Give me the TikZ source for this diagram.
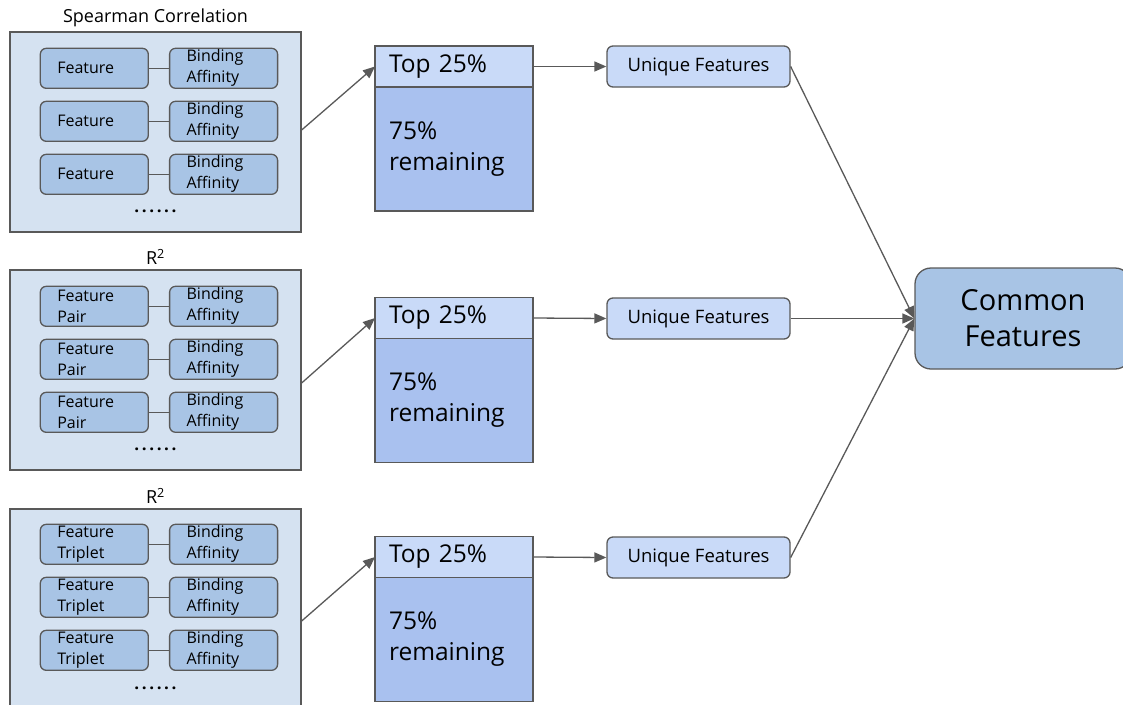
\documentclass[tikz,border=0pt]{standalone}
\usepackage{fontspec}
\setmainfont{Open Sans}
\usetikzlibrary{arrows.meta, matrix, positioning, calc}
\definecolor{linegray}{HTML}{595959}
\definecolor{groupfill}{HTML}{D5E2F1}
\definecolor{pairfill}{HTML}{A8C4E5}
\definecolor{topfill}{HTML}{C9DAF8}
\definecolor{restfill}{HTML}{A9C1EF}
\newcommand{\sixdots}{.\kern2.6pt.\kern2.6pt.\kern2.6pt.\kern2.6pt.\kern2.6pt.}
\tikzset{
   mygroup/.style={draw=linegray, fill=groupfill, minimum width=291pt, minimum height=200pt, inner sep=0pt},
   mytitle/.style={inner sep=0pt, font=\fontsize{18}{20}\selectfont},
   mypair/.style={draw=linegray, fill=pairfill, rounded corners=6pt, minimum width=108pt, minimum height=40pt,
      text width=74pt, inner xsep=17pt, inner ysep=0pt, align=left, anchor=center, font=\fontsize{16}{21}\selectfont},
   mypairs/.style={matrix of nodes, nodes={mypair}, column sep=20pt, row sep={53pt,between origins},
      inner sep=0pt, anchor=north west, ampersand replacement=\&},
   mydots/.style={inner sep=0pt, font=\fontsize{17}{20}\bfseries},
   mytop/.style={draw=linegray, fill=topfill, outer sep=0pt, minimum width=158pt, minimum height=41pt,
      text width=130pt, inner xsep=14pt, align=left, font=\fontsize{24.5}{30}\selectfont},
   myrest/.style={draw=linegray, fill=restfill, outer sep=0pt, minimum width=158pt, minimum height=124pt,
      text width=130pt, inner xsep=14pt, align=left, font=\fontsize{24.5}{31}\selectfont},
   myuniq/.style={draw=linegray, fill=topfill, rounded corners=6pt, minimum width=183pt, minimum height=41pt,
      font=\fontsize{18.5}{20}\selectfont},
   mycommon/.style={draw=linegray, fill=pairfill, rounded corners=16pt, minimum width=216pt, minimum height=101pt,
      align=center, font=\fontsize{29}{36}\selectfont},
   mylink/.style={draw=linegray},
   myarrow/.style={draw=linegray, ->}
}

\begin{document}
\begin{tikzpicture}[x=1pt, y=-1pt, line width=1.3pt, >={Triangle[length=12pt,width=10pt]}]
  \useasboundingbox (0,0) rectangle (1123,704);
  \clip (0,0) rectangle (1123,704);

  % groups of feature / affinity pairs
  \node[mygroup] (grpA) at (155.5,132) {};
  \node[mygroup] (grpB) at (155.5,370) {};
  \node[mygroup] (grpC) at (155.5,609) {};
  \node[mytitle, above=4pt of grpA.north] (titleA) {Spearman Correlation};
  \node[mytitle, above=4pt of grpB.north] (titleB) {R\textsuperscript{2}};
  \node[mytitle, above=4pt of grpC.north] (titleC) {R\textsuperscript{2}};

  \matrix (pairA) [mypairs] at (39,47) {
    Feature \& Binding\newline Affinity \\
    Feature \& Binding\newline Affinity \\
    Feature \& Binding\newline Affinity \\
  };
  \matrix (pairB) [mypairs] at (39,285) {
    Feature\newline Pair \& Binding\newline Affinity \\
    Feature\newline Pair \& Binding\newline Affinity \\
    Feature\newline Pair \& Binding\newline Affinity \\
  };
  \matrix (pairC) [mypairs] at (39,523) {
    Feature\newline Triplet \& Binding\newline Affinity \\
    Feature\newline Triplet \& Binding\newline Affinity \\
    Feature\newline Triplet \& Binding\newline Affinity \\
  };
  \foreach \g in {A,B,C}{
    \foreach \r in {1,2,3}
      \draw[mylink] (pair\g-\r-1) -- (pair\g-\r-2);
    \node[mydots] (dots\g) at ([yshift=21pt]grp\g.south) {\sixdots};
  }

  % top 25% split
  \node[mytop] (topA) at (454,66.5) {Top 25\%};
  \node[mytop] (topB) at (454,318) {Top 25\%};
  \node[mytop] (topC) at (454,557) {Top 25\%};
  \foreach \g in {A,B,C}
    \node[myrest, below=0pt of top\g] (rest\g) {75\%\newline remaining};

  \node[myuniq] (uniqA) at (698.5,66.5) {Unique Features};
  \node[myuniq] (uniqB) at (698.5,318.5) {Unique Features};
  \node[myuniq] (uniqC) at (698.5,557.5) {Unique Features};

  \node[mycommon] (common) at (1023,318.5) {Common\\Features};

  % arrows
  \draw[myarrow] ([yshift=2pt]grpA.east) -- (topA.west);
  \draw[myarrow] ([yshift=-13pt]grpB.east) -- (topB.west);
  \draw[myarrow] ([yshift=-12pt]grpC.east) -- (topC.west);
  \foreach \g in {A,B,C}{
    \draw[myarrow] (top\g.east) -- (uniq\g.west);
    \draw[myarrow] (uniq\g.east) -- (common.west);
  }
\end{tikzpicture}
\end{document}
